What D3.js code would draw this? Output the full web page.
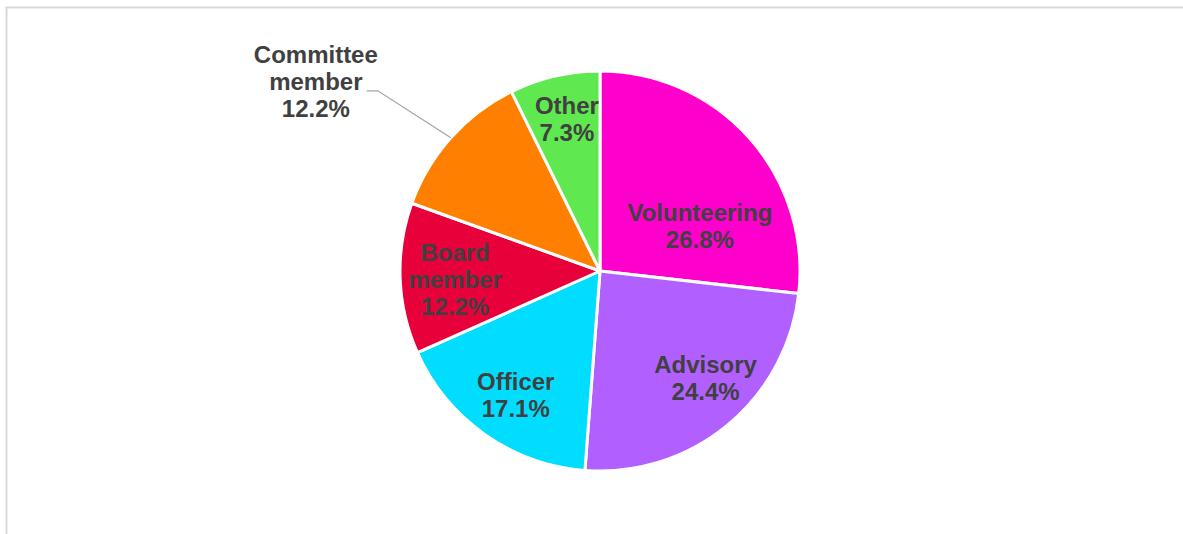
<!DOCTYPE html>
<html>
<head>
<meta charset="utf-8">
<script src="https://cdn.jsdelivr.net/npm/d3@7/dist/d3.min.js"></script>
<style>
  html, body { margin: 0; padding: 0; background: #fff; }
  svg { display: block; }
</style>
</head>
<body>
<svg id="chart" width="1183" height="534"></svg>
<script>
// ---- data ----
const categories = ["Volunteering", "Advisory", "Officer", "Board member", "Committee member", "Other"];
const values = [26.8, 24.4, 17.1, 12.2, 12.2, 7.3];
const labelLines = [["Volunteering"], ["Advisory"], ["Officer"], ["Board", "member"], ["Committee", "member"], ["Other"]];
const colors = ["#FF00CC", "#B160FF", "#00DDFF", "#E8003A", "#FF8000", "#5FE84F"];

// ---- layout (not data) ----
const W = 1183, H = 534;
const cx = 600, cy = 271, R = 200;
const fontSize = 24, lineH = 27;
const labelRadiusFrac = 0.75;
// per-label nudges (px) from centroid position, and outside flags
const nudges = [[-12, 55], [10, -8], [2, 1], [5, 3], [0, 0], [1, -6]];
const outside = [false, false, false, false, true, false];

const svg = d3.select("#chart");

// border
svg.append("rect")
  .attr("x", 6.5).attr("y", 7.5)
  .attr("width", 1300).attr("height", 700)
  .attr("fill", "none")
  .attr("stroke", "#d9d9d9")
  .attr("stroke-width", 2);

const g = svg.append("g").attr("transform", `translate(${cx},${cy})`);

const pie = d3.pie().sort(null).value(d => d);
const arcs = pie(values);
const arc = d3.arc().innerRadius(0).outerRadius(R);
const labelArc = d3.arc().innerRadius(R * labelRadiusFrac).outerRadius(R * labelRadiusFrac);
const edgeArc = d3.arc().innerRadius(R).outerRadius(R);

g.selectAll("path.slice")
  .data(arcs)
  .join("path")
  .attr("class", "slice")
  .attr("d", arc)
  .attr("fill", (d, i) => colors[i])
  .attr("stroke", "#fff")
  .attr("stroke-width", 3)
  .attr("stroke-linejoin", "round");

const fmt = v => v.toFixed(1) + "%";

arcs.forEach((d, i) => {
  const lines = labelLines[i].concat([fmt(values[i])]);
  let x, y;
  if (outside[i]) {
    const [ex, ey] = edgeArc.centroid(d);
    // leader line: from pie edge to label
    const elbowX = ex - 73, elbowY = ey - 47;
    g.append("polyline")
      .attr("points", `${ex},${ey} ${elbowX},${elbowY} ${elbowX - 11},${elbowY}`)
      .attr("fill", "none")
      .attr("stroke", "#a6a6a6")
      .attr("stroke-width", 1.3);
    x = elbowX - 62;
    y = elbowY - 9;
  } else {
    const [lx, ly] = labelArc.centroid(d);
    x = lx + nudges[i][0];
    y = ly + nudges[i][1];
  }
  const n = lines.length;
  const t = g.append("text")
    .attr("text-anchor", "middle")
    .attr("font-family", "'Liberation Sans', Arial, sans-serif")
    .attr("font-weight", "bold")
    .attr("font-size", fontSize)
    .attr("fill", "#404040");
  lines.forEach((ln, k) => {
    t.append("tspan")
      .attr("x", x)
      .attr("y", y + (k - (n - 1) / 2) * lineH + fontSize * 0.35)
      .text(ln);
  });
});
</script>
</body>
</html>
